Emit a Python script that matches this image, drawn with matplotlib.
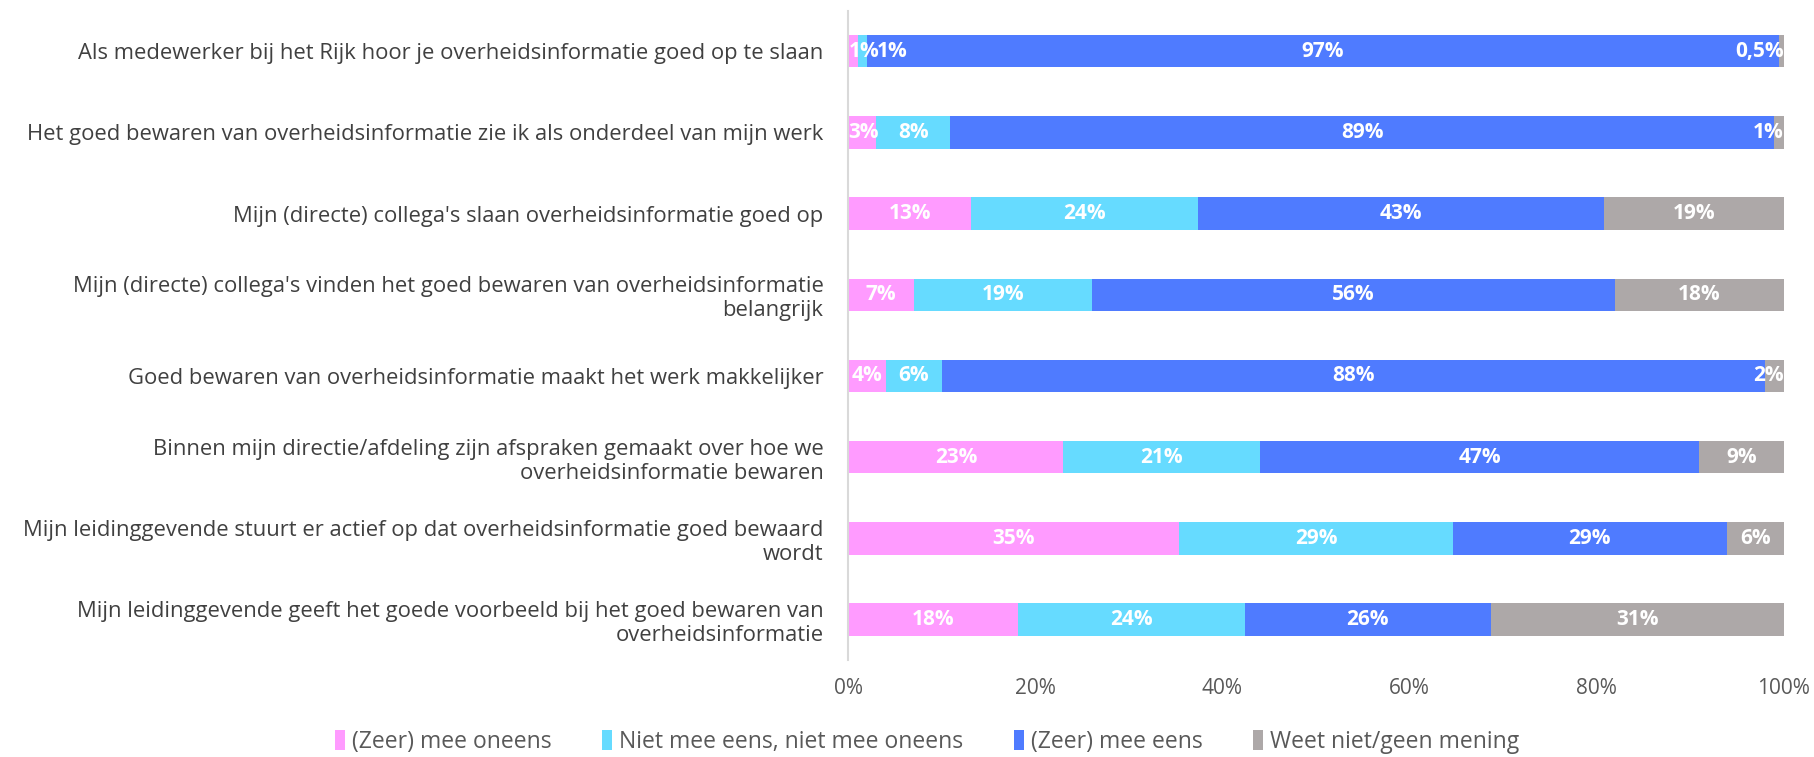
import matplotlib
matplotlib.use("Agg")
from matplotlib import pyplot as plt
import numpy as np

statements = [
    "Als medewerker bij het Rijk hoor je overheidsinformatie goed op te slaan",
    "Het goed bewaren van overheidsinformatie zie ik als onderdeel van mijn werk",
    "Mijn (directe) collega's slaan overheidsinformatie goed op",
    "Mijn (directe) collega's vinden het goed bewaren van overheidsinformatie\nbelangrijk",
    "Goed bewaren van overheidsinformatie maakt het werk makkelijker",
    "Binnen mijn directie/afdeling zijn afspraken gemaakt over hoe we\noverheidsinformatie bewaren",
    "Mijn leidinggevende stuurt er actief op dat overheidsinformatie goed bewaard\nwordt",
    "Mijn leidinggevende geeft het goede voorbeeld bij het goed bewaren van\noverheidsinformatie",
]
oneens = [1, 3, 13, 7, 4, 23, 35, 18]
neutraal = [1, 8, 24, 19, 6, 21, 29, 24]
eens = [97, 89, 43, 56, 88, 47, 29, 26]
weet_niet = [0.5, 1, 19, 18, 2, 9, 6, 31]

series_names = ["(Zeer) mee oneens", "Niet mee eens, niet mee oneens",
                "(Zeer) mee eens", "Weet niet/geen mening"]
colors = ["#FF9BFF", "#66DBFF", "#4F7BFF", "#ADA8A8"]

plt.rcParams['font.family'] = ['Open Sans', 'DejaVu Sans']

data = np.array([oneens, neutraal, eens, weet_niet], dtype=float)
totals = data.sum(axis=0)
shares = data / totals * 100

fig = plt.figure(figsize=(18.14, 7.57), dpi=100)
ax = fig.add_axes([0.4677, 0.128, 0.5155, 0.858])

y = np.arange(len(statements))
left = np.zeros(len(statements))
for i in range(4):
    ax.barh(y, shares[i], left=left, height=0.4, color=colors[i], label=series_names[i])
    for j in range(len(statements)):
        v = data[i][j]
        if v == int(v):
            txt = "%d%%" % v
        else:
            txt = ("%.1f%%" % v).replace(".", ",")
        w = shares[i][j]
        # keep small labels inside the plot area, like the original
        if w < 3 and i == 0:
            x, ha = 0.0, "left"
        elif w < 3 and i == 3:
            x, ha = 100, "right"
        elif w < 3:
            x, ha = left[j] + w + 1.0, "left"
        else:
            x, ha = left[j] + w / 2, "center"
        ax.text(x, y[j], txt, ha=ha, va="center",
                color="white", fontsize=15, fontweight="bold")
    left = left + shares[i]

ax.set_xlim(0, 100)
ax.set_ylim(len(statements) - 0.5, -0.5)
ax.set_yticks(y)
ax.set_yticklabels(statements, fontsize=15.8, color="#404040")
ax.set_xticks([0, 20, 40, 60, 80, 100])
ax.set_xticklabels(["0%", "20%", "40%", "60%", "80%", "100%"], fontsize=15, color="#595959")
ax.tick_params(axis="both", length=0)
ax.tick_params(axis="y", pad=18)
ax.tick_params(axis="x", pad=13)
for s in ["top", "right", "bottom"]:
    ax.spines[s].set_visible(False)
ax.spines["left"].set_color("#D9D9D9")
ax.spines["left"].set_linewidth(1.5)

fig.legend(loc="center", bbox_to_anchor=(0.511, 0.02), ncol=4, frameon=False,
           fontsize=16.5, handlelength=0.45, handleheight=1.0, columnspacing=2.2,
           handletextpad=0.3, labelcolor="#595959")

plt.savefig("out.png")
